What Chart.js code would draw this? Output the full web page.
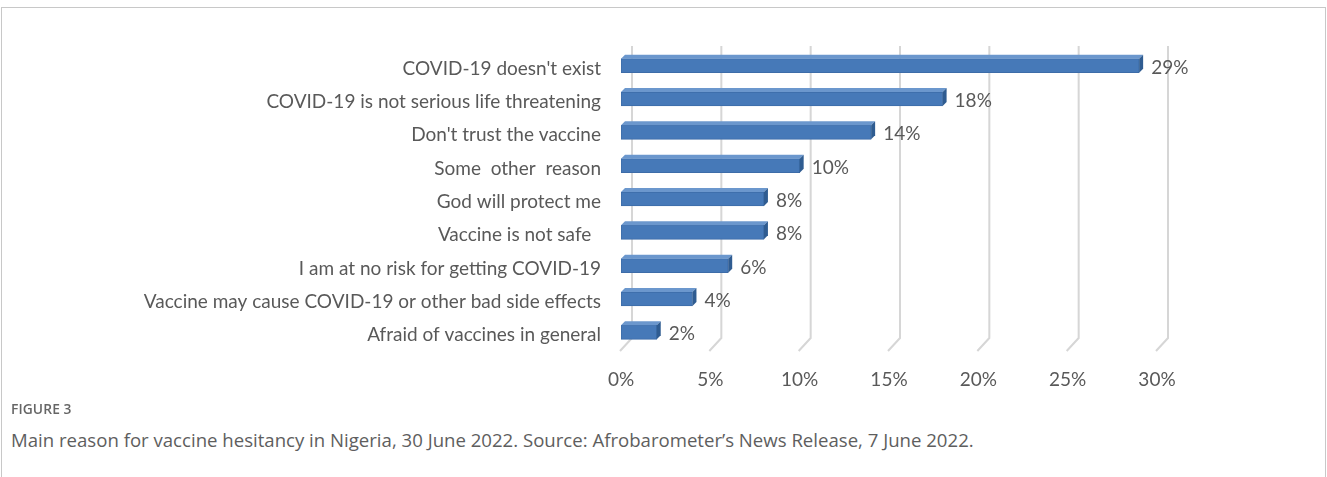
<!DOCTYPE html>
<html>
<head>
<meta charset="utf-8">
<script src="https://cdn.jsdelivr.net/npm/chart.js@4/dist/chart.umd.min.js"></script>
<style>
  html, body { margin: 0; padding: 0; background: #fff; }
  body { width: 1327px; height: 477px; position: relative; overflow: hidden; }
  .frame { position: absolute; left: 1px; top: 7px; width: 1323px; height: 480px;
           border: 1px solid #c8c8c8; border-bottom: none; }
  .chart-box { position: absolute; left: 0; top: 0; width: 1327px; height: 400px; }
  .fig-label { position: absolute; left: 11px; top: 399px; font: 600 13.8px "Open Sans", sans-serif;
               color: #666; letter-spacing: 0.1px; }
  .caption { position: absolute; left: 11px; top: 427px; font: 18.6px "Open Sans", sans-serif;
             color: #5e5e5e; }
</style>
</head>
<body>
<div class="frame"></div>
<div class="chart-box"><canvas id="hesitancy"></canvas></div>
<div class="fig-label">FIGURE 3</div>
<div class="caption">Main reason for vaccine hesitancy in Nigeria, 30 June 2022. Source: Afrobarometer’s News Release, 7 June 2022.</div>

<script>
// ── Données ───────────────────────────────────────────────────────────────
const reasons = [
  "COVID-19 doesn't exist",
  'COVID-19 is not serious life threatening',
  "Don't trust the vaccine",
  'Some  other  reason',
  'God will protect me',
  'Vaccine is not safe  ',
  'I am at no risk for getting COVID-19',
  'Vaccine may cause COVID-19 or other bad side effects',
  'Afraid of vaccines in general',
];
const shares   = [29, 18, 14, 10, 8, 8, 6, 4, 2];
const xTicks   = [0, 5, 10, 15, 20, 25, 30];

const TEXT  = '#595959';
const FONT  = 'Lato, sans-serif';
const DEPTH = 4;   // profondeur 3D des barres

// ── Grille "3D" : lignes de fond + diagonale du plancher ──────────────────
const grid3d = {
  id: 'grid3d',
  beforeDatasetsDraw(chart) {
    const { ctx, scales: { x }, chartArea: a } = chart;
    ctx.save();
    ctx.strokeStyle = '#d6d6d6';
    ctx.lineWidth = 2;
    xTicks.forEach(v => {
      const xf = x.getPixelForValue(v);
      ctx.beginPath();
      ctx.moveTo(xf + 11, a.top - 3);
      ctx.lineTo(xf + 11, a.bottom - 11);
      ctx.lineTo(xf - 1, a.bottom + 2);
      ctx.stroke();
    });
    ctx.restore();
  },
};

// ── Faces dessus / côté des barres + étiquettes de valeur ─────────────────
const bars3d = {
  id: 'bars3d',
  afterDatasetsDraw(chart) {
    const { ctx } = chart;
    const meta = chart.getDatasetMeta(0);
    ctx.save();
    meta.data.forEach((bar, i) => {
      const { x: x1, y, base: x0, height: h } = bar.getProps(['x', 'y', 'base', 'height'], true);
      const top = y - h / 2, bot = y + h / 2;

      ctx.fillStyle = '#6b97cd';
      ctx.beginPath();
      ctx.moveTo(x0, top);
      ctx.lineTo(x0 + DEPTH, top - DEPTH);
      ctx.lineTo(x1 + DEPTH, top - DEPTH);
      ctx.lineTo(x1, top);
      ctx.closePath();
      ctx.fill();

      ctx.fillStyle = '#2f5c91';
      ctx.beginPath();
      ctx.moveTo(x1, top);
      ctx.lineTo(x1 + DEPTH, top - DEPTH);
      ctx.lineTo(x1 + DEPTH, bot - DEPTH);
      ctx.lineTo(x1, bot);
      ctx.closePath();
      ctx.fill();

      ctx.fillStyle = TEXT;
      ctx.font = `19px ${FONT}`;
      ctx.textBaseline = 'middle';
      ctx.textAlign = 'left';
      ctx.fillText(shares[i] + '%', x1 + DEPTH + 8, y + 2);
    });
    ctx.restore();
  },
};

new Chart(document.getElementById('hesitancy'), {
  type: 'bar',
  data: {
    labels: reasons,
    datasets: [{
      data: shares,
      backgroundColor: '#4679b8',
      borderColor: '#3d6ca8',
      borderWidth: 1,
      borderSkipped: false,
      barThickness: 14,
    }],
  },
  options: {
    indexAxis: 'y',
    responsive: true, maintainAspectRatio: false, animation: false,
    layout: { padding: { top: 49, right: 170, left: 0, bottom: 0 } },
    plugins: { legend: { display: false }, tooltip: { enabled: false } },
    scales: {
      x: {
        min: 0, max: 30,
        afterBuildTicks: s => { s.ticks = xTicks.map(v => ({ value: v })); },
        afterFit: s => { s.height = 51; },
        grid: { display: false, drawTicks: false },
        border: { display: false },
        ticks: { color: TEXT, font: { family: FONT, size: 19 }, padding: 19, callback: v => v + '%' },
      },
      y: {
        afterFit: s => { s.width = 621; },
        grid: { display: false, drawTicks: false },
        border: { display: false },
        ticks: { color: TEXT, font: { family: FONT, size: 19 }, padding: 20, labelOffset: 3, autoSkip: false },
      },
    },
  },
  plugins: [grid3d, bars3d],
});
</script>
</body>
</html>
